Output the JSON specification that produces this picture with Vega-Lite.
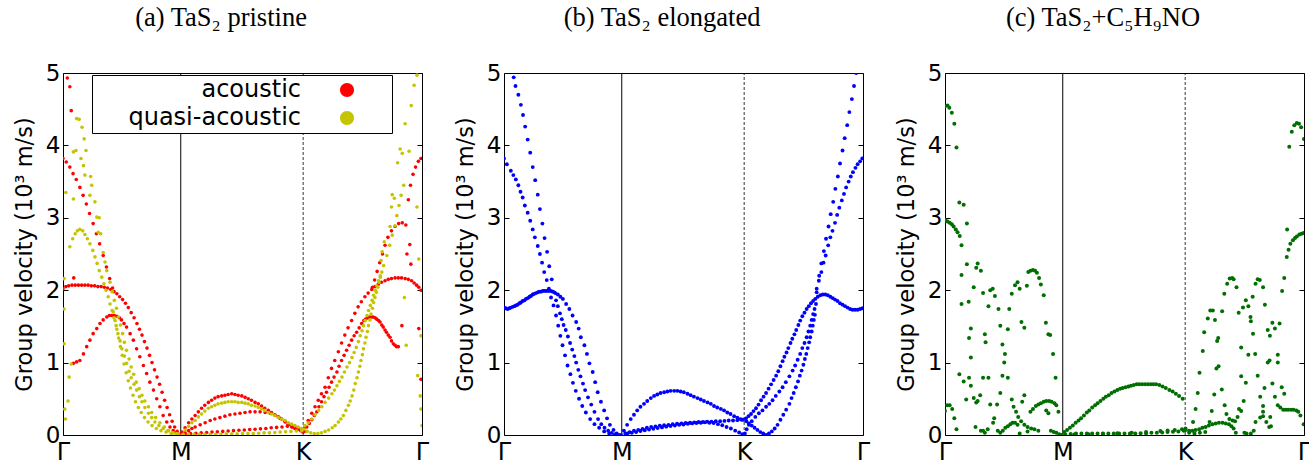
{
"$schema":"https://vega.github.io/schema/vega-lite/v6.json",
"padding":{"left":12,"top":4,"right":2,"bottom":0},
"spacing":23,
"config":{
"font":"DejaVu Sans",
"view":{"stroke":"black","strokeWidth":1},
"axis":{"grid":false,"domain":false,"labelColor":"black","titleColor":"black","tickColor":"black","labelFont":"DejaVu Sans","titleFont":"DejaVu Sans","titleFontWeight":"normal"},
"axisX":{"ticks":false,"labelFontSize":24,"labelPadding":5,"labelFlush":false},
"axisY":{"labelFontSize":23,"titleFontSize":22.5,"tickSize":-5,"labelPadding":8,"titlePadding":9},
"title":{"font":"Liberation Serif","fontSize":26.5,"fontWeight":"normal","color":"black","offset":31,"anchor":"middle","frame":"bounds","baseline":"alphabetic"}
},
"datasets":{
"m":[{"k":"M","x":0.328},{"k":"K","x":0.669}],
"a":[
{"s":"a","x":0,"y":3.82},{"s":"a","x":0.009,"y":3.77},{"s":"a","x":0.019,"y":3.7},{"s":"a","x":0.028,"y":3.61},{"s":"a","x":0.037,"y":3.53},{"s":"a","x":0.047,"y":3.42},{"s":"a","x":0.056,"y":3.31},{"s":"a","x":0.065,"y":3.19},{"s":"a","x":0.074,"y":3.06},{"s":"a","x":0.084,"y":2.92},{"s":"a","x":0.093,"y":2.78},{"s":"a","x":0.102,"y":2.64},{"s":"a","x":0.112,"y":2.48},{"s":"a","x":0.121,"y":2.32},{"s":"a","x":0.13,"y":2.16},{"s":"a","x":0.138,"y":2.03},
{"s":"a","x":0,"y":2.02},{"s":"a","x":0.008,"y":2.05},{"s":"a","x":0.016,"y":2.06},{"s":"a","x":0.025,"y":2.07},{"s":"a","x":0.034,"y":2.07},{"s":"a","x":0.043,"y":2.07},{"s":"a","x":0.052,"y":2.07},{"s":"a","x":0.061,"y":2.07},{"s":"a","x":0.07,"y":2.07},{"s":"a","x":0.079,"y":2.06},{"s":"a","x":0.088,"y":2.06},{"s":"a","x":0.097,"y":2.05},{"s":"a","x":0.106,"y":2.05},{"s":"a","x":0.115,"y":2.04},{"s":"a","x":0.124,"y":2.03},{"s":"a","x":0.133,"y":2.01},{"s":"a","x":0.142,"y":1.98},{"s":"a","x":0.15,"y":1.95},{"s":"a","x":0.158,"y":1.91},{"s":"a","x":0.166,"y":1.87},{"s":"a","x":0.174,"y":1.82},{"s":"a","x":0.182,"y":1.76},{"s":"a","x":0.19,"y":1.69},{"s":"a","x":0.198,"y":1.62},{"s":"a","x":0.206,"y":1.54},{"s":"a","x":0.213,"y":1.46},{"s":"a","x":0.22,"y":1.38},{"s":"a","x":0.227,"y":1.29},{"s":"a","x":0.234,"y":1.2},{"s":"a","x":0.241,"y":1.1},{"s":"a","x":0.248,"y":1.0},{"s":"a","x":0.255,"y":0.9},{"s":"a","x":0.262,"y":0.8},{"s":"a","x":0.269,"y":0.7},{"s":"a","x":0.276,"y":0.59},{"s":"a","x":0.283,"y":0.48},{"s":"a","x":0.29,"y":0.38},{"s":"a","x":0.297,"y":0.28},{"s":"a","x":0.304,"y":0.19},{"s":"a","x":0.311,"y":0.11},{"s":"a","x":0.318,"y":0.05},{"s":"a","x":0.325,"y":0.01},
{"s":"a","x":0.029,"y":0.99},{"s":"a","x":0.038,"y":1.01},{"s":"a","x":0.047,"y":1.03},{"s":"a","x":0.057,"y":1.12},{"s":"a","x":0.066,"y":1.22},{"s":"a","x":0.075,"y":1.31},{"s":"a","x":0.084,"y":1.4},{"s":"a","x":0.094,"y":1.47},{"s":"a","x":0.103,"y":1.54},{"s":"a","x":0.112,"y":1.59},{"s":"a","x":0.122,"y":1.63},{"s":"a","x":0.129,"y":1.65},{"s":"a","x":0.136,"y":1.65},{"s":"a","x":0.143,"y":1.65},{"s":"a","x":0.15,"y":1.64},{"s":"a","x":0.157,"y":1.62},{"s":"a","x":0.163,"y":1.59},{"s":"a","x":0.17,"y":1.54},{"s":"a","x":0.177,"y":1.49},{"s":"a","x":0.187,"y":1.4},{"s":"a","x":0.196,"y":1.31},{"s":"a","x":0.205,"y":1.19},{"s":"a","x":0.214,"y":1.08},{"s":"a","x":0.224,"y":0.96},{"s":"a","x":0.233,"y":0.85},{"s":"a","x":0.242,"y":0.73},{"s":"a","x":0.252,"y":0.62},{"s":"a","x":0.261,"y":0.5},{"s":"a","x":0.27,"y":0.39},{"s":"a","x":0.279,"y":0.27},{"s":"a","x":0.289,"y":0.18},{"s":"a","x":0.298,"y":0.11},{"s":"a","x":0.307,"y":0.06},{"s":"a","x":0.316,"y":0.03},
{"s":"a","x":0.012,"y":4.93},{"s":"a","x":0.019,"y":4.81},{"s":"a","x":0.023,"y":4.48},{"s":"a","x":0.03,"y":2.17},
{"s":"a","x":0.331,"y":0.04},{"s":"a","x":0.34,"y":0.1},{"s":"a","x":0.35,"y":0.17},{"s":"a","x":0.359,"y":0.22},{"s":"a","x":0.368,"y":0.27},{"s":"a","x":0.377,"y":0.32},{"s":"a","x":0.386,"y":0.37},{"s":"a","x":0.395,"y":0.41},{"s":"a","x":0.405,"y":0.45},{"s":"a","x":0.414,"y":0.48},{"s":"a","x":0.423,"y":0.51},{"s":"a","x":0.432,"y":0.53},{"s":"a","x":0.442,"y":0.54},{"s":"a","x":0.451,"y":0.55},{"s":"a","x":0.46,"y":0.56},{"s":"a","x":0.47,"y":0.57},{"s":"a","x":0.479,"y":0.56},{"s":"a","x":0.488,"y":0.55},{"s":"a","x":0.498,"y":0.54},{"s":"a","x":0.507,"y":0.52},{"s":"a","x":0.516,"y":0.5},{"s":"a","x":0.525,"y":0.48},{"s":"a","x":0.535,"y":0.45},{"s":"a","x":0.544,"y":0.43},{"s":"a","x":0.553,"y":0.4},{"s":"a","x":0.562,"y":0.37},{"s":"a","x":0.572,"y":0.34},{"s":"a","x":0.581,"y":0.31},{"s":"a","x":0.59,"y":0.28},{"s":"a","x":0.6,"y":0.25},{"s":"a","x":0.609,"y":0.22},{"s":"a","x":0.618,"y":0.19},{"s":"a","x":0.628,"y":0.15},{"s":"a","x":0.637,"y":0.13},{"s":"a","x":0.646,"y":0.11},{"s":"a","x":0.655,"y":0.09},
{"s":"a","x":0.34,"y":0.03},{"s":"a","x":0.35,"y":0.06},{"s":"a","x":0.359,"y":0.09},{"s":"a","x":0.368,"y":0.11},{"s":"a","x":0.382,"y":0.14},{"s":"a","x":0.396,"y":0.17},{"s":"a","x":0.41,"y":0.2},{"s":"a","x":0.423,"y":0.22},{"s":"a","x":0.437,"y":0.24},{"s":"a","x":0.451,"y":0.26},{"s":"a","x":0.465,"y":0.28},{"s":"a","x":0.479,"y":0.29},{"s":"a","x":0.493,"y":0.3},{"s":"a","x":0.507,"y":0.31},{"s":"a","x":0.521,"y":0.32},{"s":"a","x":0.535,"y":0.32},{"s":"a","x":0.549,"y":0.32},{"s":"a","x":0.563,"y":0.31},{"s":"a","x":0.577,"y":0.3},{"s":"a","x":0.591,"y":0.27},{"s":"a","x":0.605,"y":0.23},{"s":"a","x":0.619,"y":0.18},{"s":"a","x":0.628,"y":0.15},{"s":"a","x":0.637,"y":0.11},{"s":"a","x":0.646,"y":0.09},
{"s":"a","x":0.34,"y":0.01},{"s":"a","x":0.355,"y":0.02},{"s":"a","x":0.37,"y":0.025},{"s":"a","x":0.385,"y":0.03},{"s":"a","x":0.4,"y":0.035},{"s":"a","x":0.415,"y":0.04},{"s":"a","x":0.43,"y":0.045},{"s":"a","x":0.445,"y":0.05},{"s":"a","x":0.46,"y":0.055},{"s":"a","x":0.475,"y":0.06},{"s":"a","x":0.49,"y":0.065},{"s":"a","x":0.505,"y":0.07},{"s":"a","x":0.52,"y":0.075},{"s":"a","x":0.535,"y":0.08},{"s":"a","x":0.55,"y":0.085},{"s":"a","x":0.565,"y":0.09},{"s":"a","x":0.58,"y":0.1},{"s":"a","x":0.595,"y":0.105},{"s":"a","x":0.61,"y":0.11},{"s":"a","x":0.625,"y":0.12},{"s":"a","x":0.64,"y":0.11},{"s":"a","x":0.655,"y":0.08},
{"s":"a","x":0.662,"y":0.06},{"s":"a","x":0.668,"y":0.04},{"s":"a","x":0.672,"y":0.05},
{"s":"a","x":0.674,"y":0.11},{"s":"a","x":0.683,"y":0.2},{"s":"a","x":0.693,"y":0.3},{"s":"a","x":0.702,"y":0.39},{"s":"a","x":0.711,"y":0.48},{"s":"a","x":0.72,"y":0.57},{"s":"a","x":0.73,"y":0.66},{"s":"a","x":0.739,"y":0.79},{"s":"a","x":0.748,"y":0.92},{"s":"a","x":0.757,"y":1.03},{"s":"a","x":0.767,"y":1.15},{"s":"a","x":0.776,"y":1.27},{"s":"a","x":0.785,"y":1.38},{"s":"a","x":0.794,"y":1.48},{"s":"a","x":0.804,"y":1.58},{"s":"a","x":0.813,"y":1.68},{"s":"a","x":0.822,"y":1.77},{"s":"a","x":0.831,"y":1.84},{"s":"a","x":0.841,"y":1.91},{"s":"a","x":0.85,"y":1.96},{"s":"a","x":0.86,"y":2.01},{"s":"a","x":0.869,"y":2.05},{"s":"a","x":0.878,"y":2.08},{"s":"a","x":0.887,"y":2.11},{"s":"a","x":0.897,"y":2.13},{"s":"a","x":0.906,"y":2.15},{"s":"a","x":0.915,"y":2.16},{"s":"a","x":0.925,"y":2.17},{"s":"a","x":0.934,"y":2.17},{"s":"a","x":0.943,"y":2.17},{"s":"a","x":0.953,"y":2.16},{"s":"a","x":0.962,"y":2.15},{"s":"a","x":0.971,"y":2.13},{"s":"a","x":0.978,"y":2.1},{"s":"a","x":0.985,"y":2.07},{"s":"a","x":0.991,"y":2.04},{"s":"a","x":0.997,"y":2.0},
{"s":"a","x":0.679,"y":0.11},{"s":"a","x":0.686,"y":0.16},{"s":"a","x":0.693,"y":0.21},{"s":"a","x":0.7,"y":0.27},{"s":"a","x":0.707,"y":0.32},{"s":"a","x":0.713,"y":0.39},{"s":"a","x":0.72,"y":0.46},{"s":"a","x":0.727,"y":0.53},{"s":"a","x":0.734,"y":0.59},{"s":"a","x":0.741,"y":0.66},{"s":"a","x":0.748,"y":0.73},{"s":"a","x":0.755,"y":0.8},{"s":"a","x":0.763,"y":0.87},{"s":"a","x":0.769,"y":0.95},{"s":"a","x":0.776,"y":1.03},{"s":"a","x":0.783,"y":1.1},{"s":"a","x":0.79,"y":1.17},{"s":"a","x":0.797,"y":1.24},{"s":"a","x":0.804,"y":1.31},{"s":"a","x":0.811,"y":1.37},{"s":"a","x":0.818,"y":1.42},{"s":"a","x":0.825,"y":1.48},{"s":"a","x":0.832,"y":1.54},{"s":"a","x":0.838,"y":1.58},{"s":"a","x":0.843,"y":1.6},{"s":"a","x":0.849,"y":1.62},{"s":"a","x":0.855,"y":1.63},{"s":"a","x":0.86,"y":1.63},{"s":"a","x":0.864,"y":1.63},{"s":"a","x":0.869,"y":1.62},{"s":"a","x":0.874,"y":1.6},{"s":"a","x":0.879,"y":1.58},{"s":"a","x":0.883,"y":1.56},{"s":"a","x":0.888,"y":1.52},{"s":"a","x":0.892,"y":1.49},{"s":"a","x":0.897,"y":1.45},{"s":"a","x":0.901,"y":1.42},{"s":"a","x":0.906,"y":1.38},{"s":"a","x":0.911,"y":1.35},{"s":"a","x":0.915,"y":1.3},{"s":"a","x":0.92,"y":1.26},{"s":"a","x":0.925,"y":1.24},{"s":"a","x":0.929,"y":1.22},{"s":"a","x":0.934,"y":1.22},
{"s":"a","x":0.862,"y":2.04},{"s":"a","x":0.868,"y":2.14},{"s":"a","x":0.875,"y":2.26},{"s":"a","x":0.882,"y":2.38},{"s":"a","x":0.89,"y":2.5},{"s":"a","x":0.897,"y":2.62},{"s":"a","x":0.905,"y":2.73},{"s":"a","x":0.915,"y":2.82},{"s":"a","x":0.925,"y":2.88},{"s":"a","x":0.935,"y":2.92},{"s":"a","x":0.945,"y":2.93},{"s":"a","x":0.955,"y":2.9},{"s":"a","x":0.962,"y":3.25},{"s":"a","x":0.968,"y":3.45},{"s":"a","x":0.975,"y":3.6},{"s":"a","x":0.982,"y":3.7},{"s":"a","x":0.99,"y":3.78},{"s":"a","x":0.997,"y":3.82},
{"s":"a","x":0.966,"y":2.63},{"s":"a","x":0.958,"y":2.5},{"s":"a","x":0.969,"y":2.36},{"s":"a","x":0.944,"y":1.51},{"s":"a","x":0.991,"y":1.47},{"s":"a","x":0.997,"y":0.77},
{"s":"q","x":0.003,"y":2.16},{"s":"q","x":0.003,"y":1.74},{"s":"q","x":0.003,"y":1.26},{"s":"q","x":0.005,"y":0.36},{"s":"q","x":0.007,"y":0.22},{"s":"q","x":0.014,"y":0.47},{"s":"q","x":0.017,"y":0.8},{"s":"q","x":0.023,"y":0.98},{"s":"q","x":0.008,"y":3.35},
{"s":"q","x":0.038,"y":4.37},{"s":"q","x":0.045,"y":4.36},{"s":"q","x":0.053,"y":4.25},{"s":"q","x":0.059,"y":4.09},{"s":"q","x":0.064,"y":3.93},
{"s":"q","x":0.029,"y":3.91},{"s":"q","x":0.036,"y":3.93},{"s":"q","x":0.05,"y":3.82},{"s":"q","x":0.057,"y":3.72},
{"s":"q","x":0.029,"y":3.26},{"s":"q","x":0.061,"y":3.59},{"s":"q","x":0.077,"y":3.57},{"s":"q","x":0.08,"y":3.45},{"s":"q","x":0.075,"y":3.31},{"s":"q","x":0.089,"y":3.22},{"s":"q","x":0.094,"y":3.01},{"s":"q","x":0.101,"y":3.0},{"s":"q","x":0.098,"y":2.8},{"s":"q","x":0.105,"y":2.78},{"s":"q","x":0.112,"y":2.52},{"s":"q","x":0.117,"y":2.39},{"s":"q","x":0.122,"y":2.27},
{"s":"q","x":0.019,"y":2.6},{"s":"q","x":0.027,"y":2.71},{"s":"q","x":0.034,"y":2.78},{"s":"q","x":0.04,"y":2.82},{"s":"q","x":0.047,"y":2.84},{"s":"q","x":0.055,"y":2.82},{"s":"q","x":0.061,"y":2.77},{"s":"q","x":0.068,"y":2.71},{"s":"q","x":0.075,"y":2.64},{"s":"q","x":0.083,"y":2.55},{"s":"q","x":0.089,"y":2.46},{"s":"q","x":0.095,"y":2.37},{"s":"q","x":0.101,"y":2.27},{"s":"q","x":0.108,"y":2.18},{"s":"q","x":0.114,"y":2.09},{"s":"q","x":0.12,"y":2.0},{"s":"q","x":0.126,"y":1.91},{"s":"q","x":0.131,"y":1.81},{"s":"q","x":0.137,"y":1.72},{"s":"q","x":0.142,"y":1.62},{"s":"q","x":0.148,"y":1.51},{"s":"q","x":0.153,"y":1.4},{"s":"q","x":0.159,"y":1.3},{"s":"q","x":0.164,"y":1.19},{"s":"q","x":0.171,"y":1.09},{"s":"q","x":0.177,"y":0.99},{"s":"q","x":0.184,"y":0.88},{"s":"q","x":0.19,"y":0.79},{"s":"q","x":0.198,"y":0.7},{"s":"q","x":0.205,"y":0.62},{"s":"q","x":0.213,"y":0.53},{"s":"q","x":0.22,"y":0.46},{"s":"q","x":0.228,"y":0.38},{"s":"q","x":0.238,"y":0.3},{"s":"q","x":0.247,"y":0.24},{"s":"q","x":0.256,"y":0.18},{"s":"q","x":0.267,"y":0.13},{"s":"q","x":0.279,"y":0.09},{"s":"q","x":0.292,"y":0.06},{"s":"q","x":0.304,"y":0.03},{"s":"q","x":0.317,"y":0.02},
{"s":"q","x":0.131,"y":2.11},{"s":"q","x":0.137,"y":1.98},{"s":"q","x":0.143,"y":1.86},{"s":"q","x":0.149,"y":1.75},{"s":"q","x":0.154,"y":1.63},{"s":"q","x":0.16,"y":1.52},{"s":"q","x":0.166,"y":1.4},{"s":"q","x":0.171,"y":1.28},{"s":"q","x":0.177,"y":1.17},{"s":"q","x":0.184,"y":1.05},{"s":"q","x":0.19,"y":0.94},{"s":"q","x":0.197,"y":0.84},{"s":"q","x":0.204,"y":0.73},{"s":"q","x":0.212,"y":0.64},{"s":"q","x":0.22,"y":0.55},{"s":"q","x":0.228,"y":0.47},{"s":"q","x":0.238,"y":0.39},{"s":"q","x":0.247,"y":0.31},{"s":"q","x":0.258,"y":0.24},{"s":"q","x":0.27,"y":0.17},{"s":"q","x":0.282,"y":0.11},{"s":"q","x":0.294,"y":0.06},{"s":"q","x":0.307,"y":0.03},{"s":"q","x":0.322,"y":0.01},
{"s":"q","x":0.14,"y":1.7},{"s":"q","x":0.145,"y":1.58},{"s":"q","x":0.15,"y":1.46},{"s":"q","x":0.155,"y":1.34},{"s":"q","x":0.16,"y":1.22},{"s":"q","x":0.165,"y":1.1},{"s":"q","x":0.17,"y":0.98},{"s":"q","x":0.176,"y":0.86},{"s":"q","x":0.182,"y":0.75},{"s":"q","x":0.188,"y":0.65},{"s":"q","x":0.195,"y":0.55},{"s":"q","x":0.202,"y":0.46},{"s":"q","x":0.21,"y":0.38},{"s":"q","x":0.218,"y":0.31},{"s":"q","x":0.227,"y":0.24},{"s":"q","x":0.237,"y":0.18},{"s":"q","x":0.248,"y":0.13},{"s":"q","x":0.26,"y":0.09},{"s":"q","x":0.273,"y":0.06},{"s":"q","x":0.287,"y":0.04},{"s":"q","x":0.301,"y":0.02},{"s":"q","x":0.315,"y":0.01},
{"s":"q","x":0.34,"y":0.07},{"s":"q","x":0.35,"y":0.12},{"s":"q","x":0.359,"y":0.17},{"s":"q","x":0.368,"y":0.2},{"s":"q","x":0.377,"y":0.25},{"s":"q","x":0.386,"y":0.29},{"s":"q","x":0.395,"y":0.33},{"s":"q","x":0.405,"y":0.37},{"s":"q","x":0.414,"y":0.39},{"s":"q","x":0.423,"y":0.41},{"s":"q","x":0.432,"y":0.43},{"s":"q","x":0.442,"y":0.44},{"s":"q","x":0.451,"y":0.45},{"s":"q","x":0.46,"y":0.46},{"s":"q","x":0.47,"y":0.46},{"s":"q","x":0.479,"y":0.46},{"s":"q","x":0.488,"y":0.45},{"s":"q","x":0.498,"y":0.45},{"s":"q","x":0.507,"y":0.44},{"s":"q","x":0.516,"y":0.43},{"s":"q","x":0.525,"y":0.41},{"s":"q","x":0.535,"y":0.4},{"s":"q","x":0.544,"y":0.38},{"s":"q","x":0.553,"y":0.36},{"s":"q","x":0.562,"y":0.34},{"s":"q","x":0.572,"y":0.31},{"s":"q","x":0.581,"y":0.29},{"s":"q","x":0.59,"y":0.27},{"s":"q","x":0.6,"y":0.24},{"s":"q","x":0.609,"y":0.22},{"s":"q","x":0.619,"y":0.2},{"s":"q","x":0.628,"y":0.17},{"s":"q","x":0.637,"y":0.15},{"s":"q","x":0.646,"y":0.13},{"s":"q","x":0.655,"y":0.11},{"s":"q","x":0.664,"y":0.09},
{"s":"q","x":0.335,"y":0.01},{"s":"q","x":0.35,"y":0.01},{"s":"q","x":0.365,"y":0.01},{"s":"q","x":0.38,"y":0.01},{"s":"q","x":0.395,"y":0.01},{"s":"q","x":0.41,"y":0.01},{"s":"q","x":0.425,"y":0.01},{"s":"q","x":0.44,"y":0.01},{"s":"q","x":0.455,"y":0.015},{"s":"q","x":0.47,"y":0.015},{"s":"q","x":0.485,"y":0.015},{"s":"q","x":0.5,"y":0.02},{"s":"q","x":0.515,"y":0.02},{"s":"q","x":0.53,"y":0.02},{"s":"q","x":0.545,"y":0.025},{"s":"q","x":0.56,"y":0.03},{"s":"q","x":0.575,"y":0.03},{"s":"q","x":0.59,"y":0.035},{"s":"q","x":0.605,"y":0.04},{"s":"q","x":0.62,"y":0.045},{"s":"q","x":0.635,"y":0.05},{"s":"q","x":0.65,"y":0.055},{"s":"q","x":0.665,"y":0.06},
{"s":"q","x":0.67,"y":0.08},{"s":"q","x":0.68,"y":0.05},{"s":"q","x":0.69,"y":0.03},{"s":"q","x":0.7,"y":0.02},{"s":"q","x":0.71,"y":0.02},{"s":"q","x":0.72,"y":0.03},{"s":"q","x":0.73,"y":0.05},{"s":"q","x":0.74,"y":0.07},{"s":"q","x":0.75,"y":0.1},{"s":"q","x":0.758,"y":0.13},{"s":"q","x":0.767,"y":0.18},{"s":"q","x":0.774,"y":0.22},{"s":"q","x":0.781,"y":0.27},{"s":"q","x":0.788,"y":0.34},{"s":"q","x":0.795,"y":0.41},{"s":"q","x":0.8,"y":0.47},{"s":"q","x":0.805,"y":0.54},{"s":"q","x":0.81,"y":0.62},{"s":"q","x":0.814,"y":0.71},{"s":"q","x":0.819,"y":0.79},{"s":"q","x":0.823,"y":0.87},{"s":"q","x":0.827,"y":0.95},{"s":"q","x":0.83,"y":1.03},{"s":"q","x":0.834,"y":1.11},{"s":"q","x":0.837,"y":1.19},{"s":"q","x":0.841,"y":1.27},{"s":"q","x":0.844,"y":1.35},{"s":"q","x":0.848,"y":1.43},{"s":"q","x":0.851,"y":1.51},{"s":"q","x":0.855,"y":1.59},{"s":"q","x":0.858,"y":1.67},{"s":"q","x":0.862,"y":1.75},{"s":"q","x":0.865,"y":1.83},{"s":"q","x":0.869,"y":1.9},{"s":"q","x":0.873,"y":1.97},{"s":"q","x":0.877,"y":2.04},{"s":"q","x":0.88,"y":2.11},{"s":"q","x":0.884,"y":2.18},{"s":"q","x":0.888,"y":2.25},
{"s":"q","x":0.674,"y":0.13},{"s":"q","x":0.683,"y":0.17},{"s":"q","x":0.693,"y":0.22},{"s":"q","x":0.702,"y":0.28},{"s":"q","x":0.712,"y":0.34},{"s":"q","x":0.721,"y":0.39},{"s":"q","x":0.73,"y":0.45},{"s":"q","x":0.74,"y":0.51},{"s":"q","x":0.749,"y":0.57},{"s":"q","x":0.756,"y":0.62},{"s":"q","x":0.763,"y":0.68},{"s":"q","x":0.77,"y":0.74},{"s":"q","x":0.777,"y":0.8},{"s":"q","x":0.784,"y":0.87},{"s":"q","x":0.791,"y":0.94},{"s":"q","x":0.798,"y":1.0},{"s":"q","x":0.805,"y":1.07},{"s":"q","x":0.811,"y":1.14},{"s":"q","x":0.817,"y":1.21},{"s":"q","x":0.823,"y":1.29},{"s":"q","x":0.828,"y":1.37},{"s":"q","x":0.833,"y":1.44},{"s":"q","x":0.837,"y":1.51},{"s":"q","x":0.842,"y":1.58},{"s":"q","x":0.847,"y":1.65},{"s":"q","x":0.851,"y":1.72},{"s":"q","x":0.856,"y":1.79},{"s":"q","x":0.861,"y":1.86},{"s":"q","x":0.865,"y":1.93},{"s":"q","x":0.87,"y":2.0},{"s":"q","x":0.874,"y":2.06},{"s":"q","x":0.879,"y":2.13},{"s":"q","x":0.884,"y":2.2},{"s":"q","x":0.893,"y":2.34},{"s":"q","x":0.902,"y":2.48},{"s":"q","x":0.91,"y":2.62},{"s":"q","x":0.917,"y":2.76},{"s":"q","x":0.925,"y":2.89},{"s":"q","x":0.93,"y":3.03},{"s":"q","x":0.936,"y":3.17},{"s":"q","x":0.942,"y":3.31},{"s":"q","x":0.949,"y":3.45},
{"s":"q","x":0.939,"y":3.95},{"s":"q","x":0.945,"y":3.89},{"s":"q","x":0.964,"y":3.92},{"s":"q","x":0.932,"y":3.76},{"s":"q","x":0.917,"y":3.32},{"s":"q","x":0.923,"y":3.27},{"s":"q","x":0.915,"y":3.15},{"s":"q","x":0.911,"y":2.88},{"s":"q","x":0.895,"y":2.67},{"s":"q","x":0.889,"y":2.53},{"s":"q","x":0.886,"y":2.41},{"s":"q","x":0.978,"y":4.83},{"s":"q","x":0.97,"y":4.55},{"s":"q","x":0.953,"y":4.3},{"s":"q","x":0.986,"y":4.97},
{"s":"q","x":0.986,"y":3.15},{"s":"q","x":0.991,"y":2.43},{"s":"q","x":0.951,"y":1.9},{"s":"q","x":0.956,"y":1.24},{"s":"q","x":0.988,"y":0.82},{"s":"q","x":0.995,"y":0.54},{"s":"q","x":0.997,"y":0.36},{"s":"q","x":1,"y":0.13},{"s":"q","x":0.997,"y":1.37}
],
"b":[
{"x":0.027,"y":4.94},{"x":0.032,"y":4.82},{"x":0.04,"y":4.7},{"x":0.047,"y":4.56},{"x":0.053,"y":4.42},{"x":0.059,"y":4.26},{"x":0.066,"y":4.08},{"x":0.073,"y":3.9},{"x":0.08,"y":3.7},{"x":0.087,"y":3.52},{"x":0.094,"y":3.32},{"x":0.1,"y":3.12},{"x":0.107,"y":2.92},{"x":0.113,"y":2.72},{"x":0.12,"y":2.53},{"x":0.126,"y":2.33},{"x":0.133,"y":2.15},
{"x":0.14,"y":1.97},{"x":0.145,"y":1.86},{"x":0.15,"y":1.78},{"x":0.156,"y":1.68},{"x":0.161,"y":1.6},{"x":0.166,"y":1.52},{"x":0.172,"y":1.45},{"x":0.178,"y":1.36},{"x":0.184,"y":1.27},{"x":0.19,"y":1.18},{"x":0.196,"y":1.09},{"x":0.201,"y":1.0},{"x":0.207,"y":0.9},{"x":0.213,"y":0.81},{"x":0.22,"y":0.71},{"x":0.226,"y":0.62},{"x":0.234,"y":0.52},{"x":0.243,"y":0.42},{"x":0.252,"y":0.32},{"x":0.262,"y":0.22},{"x":0.271,"y":0.15},{"x":0.28,"y":0.1},{"x":0.29,"y":0.06},{"x":0.3,"y":0.03},{"x":0.31,"y":0.01},{"x":0.32,"y":0.0},
{"x":0,"y":3.82},{"x":0.008,"y":3.74},{"x":0.019,"y":3.65},{"x":0.026,"y":3.59},{"x":0.033,"y":3.53},{"x":0.04,"y":3.45},{"x":0.046,"y":3.36},{"x":0.052,"y":3.28},{"x":0.058,"y":3.17},{"x":0.066,"y":3.07},{"x":0.073,"y":2.96},{"x":0.08,"y":2.84},{"x":0.086,"y":2.73},{"x":0.094,"y":2.61},{"x":0.1,"y":2.5},{"x":0.106,"y":2.38},{"x":0.112,"y":2.25},{"x":0.119,"y":2.14},{"x":0.125,"y":2.02},
{"x":0.131,"y":1.9},{"x":0.138,"y":1.79},{"x":0.145,"y":1.65},{"x":0.151,"y":1.51},{"x":0.157,"y":1.37},{"x":0.163,"y":1.24},{"x":0.17,"y":1.1},{"x":0.177,"y":0.96},{"x":0.185,"y":0.84},{"x":0.192,"y":0.72},{"x":0.2,"y":0.61},{"x":0.209,"y":0.5},{"x":0.218,"y":0.4},{"x":0.228,"y":0.31},{"x":0.24,"y":0.22},{"x":0.252,"y":0.15},{"x":0.265,"y":0.1},{"x":0.279,"y":0.05},{"x":0.293,"y":0.02},{"x":0.307,"y":0.0},
{"x":0,"y":1.76},{"x":0.005,"y":1.75},{"x":0.01,"y":1.74},{"x":0.015,"y":1.75},{"x":0.019,"y":1.76},{"x":0.024,"y":1.77},{"x":0.029,"y":1.78},{"x":0.033,"y":1.79},{"x":0.038,"y":1.8},{"x":0.043,"y":1.82},{"x":0.047,"y":1.83},{"x":0.052,"y":1.85},{"x":0.057,"y":1.86},{"x":0.061,"y":1.88},{"x":0.066,"y":1.89},{"x":0.071,"y":1.91},{"x":0.075,"y":1.92},{"x":0.08,"y":1.94},{"x":0.084,"y":1.95},{"x":0.089,"y":1.96},{"x":0.094,"y":1.97},{"x":0.098,"y":1.98},{"x":0.103,"y":1.98},{"x":0.108,"y":1.99},{"x":0.112,"y":1.99},{"x":0.117,"y":1.99},{"x":0.122,"y":1.99},{"x":0.127,"y":1.99},{"x":0.131,"y":1.99},{"x":0.136,"y":1.98},
{"x":0.143,"y":1.96},{"x":0.15,"y":1.94},{"x":0.157,"y":1.91},{"x":0.164,"y":1.88},{"x":0.173,"y":1.81},{"x":0.182,"y":1.74},{"x":0.191,"y":1.65},{"x":0.201,"y":1.56},{"x":0.208,"y":1.47},{"x":0.214,"y":1.35},{"x":0.224,"y":1.24},{"x":0.231,"y":1.12},{"x":0.238,"y":0.99},{"x":0.247,"y":0.87},{"x":0.254,"y":0.73},{"x":0.261,"y":0.59},{"x":0.27,"y":0.46},{"x":0.279,"y":0.34},{"x":0.287,"y":0.23},{"x":0.295,"y":0.14},{"x":0.305,"y":0.07},{"x":0.314,"y":0.02},{"x":0.326,"y":0.0},
{"x":0.334,"y":0.06},{"x":0.343,"y":0.14},{"x":0.353,"y":0.22},{"x":0.362,"y":0.28},{"x":0.371,"y":0.34},{"x":0.38,"y":0.39},{"x":0.39,"y":0.43},{"x":0.399,"y":0.47},{"x":0.409,"y":0.51},{"x":0.418,"y":0.54},{"x":0.427,"y":0.56},{"x":0.436,"y":0.58},{"x":0.446,"y":0.59},{"x":0.455,"y":0.6},{"x":0.464,"y":0.61},{"x":0.474,"y":0.61},{"x":0.483,"y":0.61},{"x":0.492,"y":0.6},{"x":0.501,"y":0.59},{"x":0.511,"y":0.57},{"x":0.52,"y":0.55},{"x":0.529,"y":0.53},{"x":0.539,"y":0.51},{"x":0.548,"y":0.49},{"x":0.557,"y":0.47},{"x":0.567,"y":0.45},{"x":0.576,"y":0.43},{"x":0.585,"y":0.4},{"x":0.594,"y":0.38},{"x":0.604,"y":0.36},{"x":0.613,"y":0.34},{"x":0.622,"y":0.31},{"x":0.631,"y":0.29},{"x":0.641,"y":0.26},{"x":0.65,"y":0.24},{"x":0.659,"y":0.22},{"x":0.666,"y":0.21},
{"x":0.338,"y":0.02},{"x":0.35,"y":0.04},{"x":0.362,"y":0.06},{"x":0.374,"y":0.07},{"x":0.386,"y":0.085},{"x":0.398,"y":0.1},{"x":0.41,"y":0.11},{"x":0.422,"y":0.12},{"x":0.434,"y":0.13},{"x":0.446,"y":0.135},{"x":0.458,"y":0.14},{"x":0.47,"y":0.15},{"x":0.482,"y":0.155},{"x":0.494,"y":0.16},{"x":0.506,"y":0.165},{"x":0.518,"y":0.17},{"x":0.53,"y":0.175},{"x":0.542,"y":0.18},{"x":0.554,"y":0.18},{"x":0.566,"y":0.185},{"x":0.578,"y":0.185},{"x":0.59,"y":0.19},{"x":0.602,"y":0.19},{"x":0.614,"y":0.195},{"x":0.626,"y":0.2},{"x":0.638,"y":0.2},{"x":0.65,"y":0.205},{"x":0.662,"y":0.21},
{"x":0.344,"y":0.02},{"x":0.356,"y":0.03},{"x":0.368,"y":0.04},{"x":0.38,"y":0.055},{"x":0.392,"y":0.065},{"x":0.404,"y":0.075},{"x":0.416,"y":0.085},{"x":0.428,"y":0.095},{"x":0.44,"y":0.105},{"x":0.452,"y":0.115},{"x":0.464,"y":0.125},{"x":0.476,"y":0.13},{"x":0.488,"y":0.14},{"x":0.5,"y":0.145},{"x":0.512,"y":0.155},{"x":0.524,"y":0.16},{"x":0.536,"y":0.165},{"x":0.548,"y":0.17},{"x":0.56,"y":0.175},{"x":0.572,"y":0.17},{"x":0.584,"y":0.165},{"x":0.596,"y":0.15},{"x":0.608,"y":0.135},{"x":0.62,"y":0.11},{"x":0.632,"y":0.09},{"x":0.644,"y":0.06},{"x":0.655,"y":0.035},{"x":0.664,"y":0.01},
{"x":0.674,"y":0.23},{"x":0.681,"y":0.26},{"x":0.688,"y":0.29},{"x":0.695,"y":0.33},{"x":0.702,"y":0.37},{"x":0.709,"y":0.42},{"x":0.716,"y":0.48},{"x":0.723,"y":0.53},{"x":0.73,"y":0.58},{"x":0.737,"y":0.64},{"x":0.744,"y":0.7},{"x":0.751,"y":0.76},{"x":0.758,"y":0.82},{"x":0.764,"y":0.88},{"x":0.77,"y":0.95},{"x":0.776,"y":1.02},{"x":0.781,"y":1.08},{"x":0.787,"y":1.14},{"x":0.792,"y":1.2},{"x":0.798,"y":1.27},{"x":0.803,"y":1.33},{"x":0.809,"y":1.39},{"x":0.814,"y":1.45},{"x":0.82,"y":1.52},{"x":0.825,"y":1.58},{"x":0.831,"y":1.64},{"x":0.837,"y":1.69},{"x":0.843,"y":1.74},{"x":0.849,"y":1.78},{"x":0.855,"y":1.82},{"x":0.861,"y":1.85},{"x":0.867,"y":1.88},{"x":0.874,"y":1.91},{"x":0.881,"y":1.93},{"x":0.888,"y":1.94},{"x":0.895,"y":1.94},{"x":0.902,"y":1.93},{"x":0.909,"y":1.91},{"x":0.916,"y":1.89},{"x":0.922,"y":1.87},{"x":0.929,"y":1.85},{"x":0.936,"y":1.82},{"x":0.943,"y":1.8},{"x":0.95,"y":1.78},{"x":0.957,"y":1.76},{"x":0.964,"y":1.74},{"x":0.971,"y":1.73},{"x":0.978,"y":1.73},{"x":0.985,"y":1.73},{"x":0.992,"y":1.74},{"x":0.999,"y":1.75},
{"x":0.671,"y":0.02},{"x":0.676,"y":0.08},{"x":0.682,"y":0.14},{"x":0.69,"y":0.19},{"x":0.7,"y":0.25},{"x":0.71,"y":0.3},{"x":0.72,"y":0.34},{"x":0.73,"y":0.39},{"x":0.739,"y":0.43},{"x":0.748,"y":0.48},{"x":0.757,"y":0.54},{"x":0.767,"y":0.6},{"x":0.776,"y":0.66},{"x":0.785,"y":0.73},{"x":0.795,"y":0.81},{"x":0.804,"y":0.89},{"x":0.811,"y":0.96},{"x":0.818,"y":1.04},{"x":0.825,"y":1.12},{"x":0.831,"y":1.2},{"x":0.837,"y":1.27},{"x":0.843,"y":1.35},{"x":0.848,"y":1.43},{"x":0.853,"y":1.51},{"x":0.857,"y":1.59},{"x":0.861,"y":1.67},{"x":0.865,"y":1.74},{"x":0.869,"y":1.81},
{"x":0.675,"y":0.19},{"x":0.682,"y":0.16},{"x":0.69,"y":0.13},{"x":0.698,"y":0.1},{"x":0.706,"y":0.07},{"x":0.714,"y":0.04},{"x":0.722,"y":0.02},{"x":0.73,"y":0.0},{"x":0.738,"y":0.02},{"x":0.746,"y":0.05},{"x":0.754,"y":0.09},{"x":0.762,"y":0.14},{"x":0.77,"y":0.21},{"x":0.778,"y":0.28},{"x":0.786,"y":0.35},{"x":0.795,"y":0.43},{"x":0.801,"y":0.51},{"x":0.807,"y":0.58},{"x":0.813,"y":0.66},{"x":0.819,"y":0.74},{"x":0.824,"y":0.82},{"x":0.829,"y":0.89},{"x":0.834,"y":0.97},{"x":0.838,"y":1.05},{"x":0.842,"y":1.12},{"x":0.846,"y":1.2},{"x":0.85,"y":1.28},{"x":0.853,"y":1.35},{"x":0.857,"y":1.43},{"x":0.86,"y":1.51},{"x":0.863,"y":1.59},{"x":0.866,"y":1.66},
{"x":0.871,"y":2.02},{"x":0.878,"y":2.2},{"x":0.884,"y":2.37},{"x":0.891,"y":2.54},{"x":0.897,"y":2.71},{"x":0.904,"y":2.88},{"x":0.91,"y":3.05},{"x":0.917,"y":3.22},{"x":0.923,"y":3.4},{"x":0.93,"y":3.57},{"x":0.936,"y":3.75},{"x":0.943,"y":3.93},{"x":0.949,"y":4.1},{"x":0.956,"y":4.28},{"x":0.962,"y":4.46},{"x":0.969,"y":4.64},{"x":0.975,"y":4.82},{"x":0.981,"y":5.0},
{"x":0.871,"y":1.97},{"x":0.877,"y":2.13},{"x":0.884,"y":2.25},{"x":0.89,"y":2.38},{"x":0.896,"y":2.48},{"x":0.903,"y":2.62},{"x":0.909,"y":2.73},{"x":0.915,"y":2.82},{"x":0.922,"y":2.93},{"x":0.928,"y":3.04},{"x":0.934,"y":3.14},{"x":0.941,"y":3.24},{"x":0.947,"y":3.33},{"x":0.953,"y":3.42},{"x":0.96,"y":3.5},{"x":0.966,"y":3.57},{"x":0.972,"y":3.63},{"x":0.979,"y":3.69},{"x":0.985,"y":3.74},{"x":0.992,"y":3.78},{"x":0.998,"y":3.82}
],
"c":[
{"x":0,"y":4.54},{"x":0.007,"y":4.55},{"x":0.012,"y":4.52},{"x":0.019,"y":4.45},{"x":0.026,"y":4.3},{"x":0.032,"y":3.97},{"x":0.04,"y":3.21},{"x":0.052,"y":3.18},{"x":0.061,"y":2.92},
{"x":0,"y":2.97},{"x":0.002,"y":2.96},{"x":0.007,"y":2.95},{"x":0.013,"y":2.93},{"x":0.019,"y":2.91},{"x":0.024,"y":2.88},{"x":0.03,"y":2.84},{"x":0.035,"y":2.8},{"x":0.041,"y":2.75},{"x":0.046,"y":2.62},
{"x":0.061,"y":2.36},{"x":0.091,"y":2.37},{"x":0.087,"y":2.31},{"x":0.1,"y":2.27},
{"x":0.046,"y":2.21},{"x":0.08,"y":2.04},{"x":0.106,"y":1.96},{"x":0.126,"y":2.0},{"x":0.133,"y":2.02},{"x":0.139,"y":1.92},
{"x":0.046,"y":1.81},{"x":0.066,"y":1.84},{"x":0.121,"y":1.78},{"x":0.149,"y":1.74},{"x":0.179,"y":1.74},{"x":0.186,"y":1.95},{"x":0.195,"y":2.07},{"x":0.202,"y":2.11},{"x":0.208,"y":2.02},{"x":0.228,"y":2.06},
{"x":0.232,"y":2.25},{"x":0.238,"y":2.27},{"x":0.245,"y":2.28},{"x":0.251,"y":2.27},{"x":0.256,"y":2.24},{"x":0.262,"y":2.17},{"x":0.267,"y":2.08},{"x":0.275,"y":1.93},
{"x":0.072,"y":1.47},{"x":0.067,"y":1.34},{"x":0.111,"y":1.39},{"x":0.113,"y":1.28},{"x":0.154,"y":1.51},{"x":0.16,"y":1.25},{"x":0.175,"y":1.46},{"x":0.213,"y":1.56},{"x":0.221,"y":1.48},{"x":0.281,"y":1.55},{"x":0.288,"y":1.39},{"x":0.293,"y":1.38},{"x":0.301,"y":1.12},{"x":0.308,"y":0.79},
{"x":0.072,"y":1.07},{"x":0.167,"y":1.12},{"x":0.165,"y":1.0},{"x":0.04,"y":0.84},{"x":0.067,"y":0.79},{"x":0.106,"y":0.79},{"x":0.121,"y":0.79},{"x":0.16,"y":0.82},{"x":0.175,"y":0.79},{"x":0.052,"y":0.74},{"x":0.072,"y":0.68},
{"x":0.059,"y":0.49},{"x":0.08,"y":0.51},{"x":0.087,"y":0.45},{"x":0.091,"y":0.47},{"x":0.098,"y":0.55},{"x":0.126,"y":0.42},{"x":0.145,"y":0.42},{"x":0.154,"y":0.58},{"x":0.186,"y":0.49},{"x":0.215,"y":0.46},{"x":0.221,"y":0.55},
{"x":0,"y":0.33},{"x":0.006,"y":0.41},{"x":0.013,"y":0.41},{"x":0.02,"y":0.36},{"x":0.026,"y":0.23},{"x":0.032,"y":0.08},
{"x":0.085,"y":0.11},{"x":0.1,"y":0.06},{"x":0.106,"y":0.06},{"x":0.111,"y":0.03},{"x":0.119,"y":0.08},{"x":0.134,"y":0.17},{"x":0.137,"y":0.23},{"x":0.147,"y":0.06},{"x":0.154,"y":0.03},{"x":0.161,"y":0.06},{"x":0.168,"y":0.1},{"x":0.175,"y":0.12},{"x":0.182,"y":0.15},{"x":0.188,"y":0.17},{"x":0.195,"y":0.17},{"x":0.202,"y":0.14},{"x":0.208,"y":0.02},{"x":0.23,"y":0.05},
{"x":0.191,"y":0.39},{"x":0.198,"y":0.32},{"x":0.204,"y":0.25},{"x":0.212,"y":0.19},{"x":0.221,"y":0.14},{"x":0.23,"y":0.11},{"x":0.24,"y":0.09},{"x":0.249,"y":0.08},{"x":0.26,"y":0.06},
{"x":0.238,"y":0.32},{"x":0.245,"y":0.36},{"x":0.253,"y":0.4},{"x":0.26,"y":0.42},{"x":0.267,"y":0.44},{"x":0.275,"y":0.46},{"x":0.282,"y":0.47},{"x":0.29,"y":0.47},{"x":0.297,"y":0.46},{"x":0.305,"y":0.44},{"x":0.31,"y":0.41},{"x":0.316,"y":0.32},
{"x":0.282,"y":0.34},{"x":0.288,"y":0.3},{"x":0.295,"y":0.06},{"x":0.303,"y":0.04},{"x":0.31,"y":0.03},{"x":0.318,"y":0.01},{"x":0.325,"y":0.0},
{"x":0.332,"y":0.04},{"x":0.34,"y":0.07},{"x":0.348,"y":0.1},{"x":0.356,"y":0.13},{"x":0.364,"y":0.17},{"x":0.372,"y":0.2},{"x":0.379,"y":0.23},{"x":0.387,"y":0.27},{"x":0.395,"y":0.31},{"x":0.402,"y":0.34},{"x":0.41,"y":0.38},{"x":0.418,"y":0.41},{"x":0.425,"y":0.44},{"x":0.433,"y":0.47},{"x":0.441,"y":0.5},{"x":0.448,"y":0.53},{"x":0.456,"y":0.55},{"x":0.464,"y":0.58},{"x":0.472,"y":0.6},{"x":0.48,"y":0.62},{"x":0.488,"y":0.64},{"x":0.495,"y":0.65},{"x":0.503,"y":0.66},{"x":0.511,"y":0.67},{"x":0.518,"y":0.68},{"x":0.526,"y":0.69},{"x":0.534,"y":0.7},{"x":0.541,"y":0.7},{"x":0.549,"y":0.7},{"x":0.557,"y":0.7},{"x":0.565,"y":0.7},{"x":0.573,"y":0.7},{"x":0.58,"y":0.7},{"x":0.588,"y":0.7},{"x":0.597,"y":0.69},{"x":0.606,"y":0.67},{"x":0.615,"y":0.65},{"x":0.625,"y":0.62},{"x":0.634,"y":0.6},{"x":0.643,"y":0.57},{"x":0.652,"y":0.54},{"x":0.662,"y":0.5},
{"x":0.335,"y":0.01},{"x":0.35,"y":0.015},{"x":0.365,"y":0.02},{"x":0.38,"y":0.02},{"x":0.395,"y":0.02},{"x":0.41,"y":0.02},{"x":0.425,"y":0.02},{"x":0.44,"y":0.02},{"x":0.455,"y":0.02},{"x":0.47,"y":0.02},{"x":0.485,"y":0.02},{"x":0.5,"y":0.02},{"x":0.515,"y":0.02},{"x":0.53,"y":0.02},{"x":0.545,"y":0.025},{"x":0.56,"y":0.025},{"x":0.575,"y":0.03},{"x":0.59,"y":0.03},{"x":0.605,"y":0.035},{"x":0.62,"y":0.04},{"x":0.635,"y":0.045},{"x":0.65,"y":0.05},{"x":0.665,"y":0.06},
{"x":0.36,"y":0.008},{"x":0.4,"y":0.012},{"x":0.44,"y":0.018},{"x":0.48,"y":0.024},{"x":0.52,"y":0.032},{"x":0.56,"y":0.042},{"x":0.6,"y":0.055},{"x":0.62,"y":0.062},{"x":0.64,"y":0.07},{"x":0.66,"y":0.08},{"x":0.67,"y":0.09},
{"x":0.959,"y":3.98},{"x":0.966,"y":4.19},{"x":0.973,"y":4.28},{"x":0.98,"y":4.31},{"x":0.986,"y":4.3},{"x":0.992,"y":4.25},{"x":1,"y":4.09},
{"x":0.953,"y":2.84},{"x":0.957,"y":2.56},{"x":0.952,"y":2.46},{"x":0.945,"y":2.17},{"x":0.939,"y":1.99},
{"x":0.962,"y":2.64},{"x":0.969,"y":2.69},{"x":0.975,"y":2.72},{"x":0.98,"y":2.74},{"x":0.987,"y":2.77},{"x":0.993,"y":2.78},{"x":0.999,"y":2.79},
{"x":0.927,"y":0.41},{"x":0.934,"y":0.38},{"x":0.942,"y":0.35},{"x":0.949,"y":0.35},{"x":0.956,"y":0.35},{"x":0.964,"y":0.35},{"x":0.971,"y":0.35},{"x":0.979,"y":0.34},{"x":0.984,"y":0.32},{"x":0.99,"y":0.27},{"x":0.999,"y":0.15},
{"x":0.786,"y":2.09},{"x":0.793,"y":2.16},{"x":0.8,"y":2.17},{"x":0.804,"y":2.15},{"x":0.812,"y":2.04},{"x":0.778,"y":1.95},{"x":0.865,"y":2.09},{"x":0.871,"y":2.15},{"x":0.877,"y":2.14},{"x":0.886,"y":2.04},
{"x":0.83,"y":1.76},{"x":0.838,"y":1.86},{"x":0.845,"y":1.78},{"x":0.818,"y":1.69},{"x":0.857,"y":1.91},{"x":0.732,"y":1.61},{"x":0.739,"y":1.72},{"x":0.746,"y":1.72},{"x":0.752,"y":1.59},{"x":0.772,"y":1.71},{"x":0.891,"y":1.8},{"x":0.851,"y":1.63},{"x":0.852,"y":1.57},
{"x":0.722,"y":1.42},{"x":0.758,"y":1.3},{"x":0.761,"y":1.34},{"x":0.858,"y":1.4},{"x":0.912,"y":1.55},{"x":0.932,"y":1.54},{"x":0.919,"y":1.47},{"x":0.899,"y":1.45},{"x":0.905,"y":1.37},{"x":0.825,"y":1.21},{"x":0.845,"y":1.11},{"x":0.864,"y":1.12},{"x":0.718,"y":1.16},{"x":0.927,"y":1.11},
{"x":0.899,"y":1.0},{"x":0.904,"y":1.03},{"x":0.927,"y":1.0},{"x":0.756,"y":0.92},{"x":0.762,"y":0.95},{"x":0.709,"y":0.86},{"x":0.871,"y":0.82},{"x":0.825,"y":0.81},{"x":0.838,"y":0.72},{"x":0.912,"y":0.71},{"x":0.89,"y":0.65},{"x":0.938,"y":0.66},
{"x":0.771,"y":0.63},{"x":0.704,"y":0.58},{"x":0.75,"y":0.56},{"x":0.878,"y":0.53},{"x":0.919,"y":0.53},{"x":0.945,"y":0.57},{"x":0.832,"y":0.47},{"x":0.779,"y":0.41},{"x":0.698,"y":0.36},
{"x":0.743,"y":0.33},{"x":0.819,"y":0.36},{"x":0.825,"y":0.33},{"x":0.886,"y":0.4},{"x":0.886,"y":0.32},{"x":0.886,"y":0.26},{"x":0.878,"y":0.24},{"x":0.906,"y":0.25},{"x":0.784,"y":0.29},{"x":0.895,"y":0.18},{"x":0.903,"y":0.11},{"x":0.908,"y":0.12},{"x":0.808,"y":0.19},{"x":0.792,"y":0.22},{"x":0.801,"y":0.2},{"x":0.815,"y":0.25},{"x":0.865,"y":0.18},{"x":0.86,"y":0.06},{"x":0.834,"y":0.03},{"x":0.84,"y":0.02},{"x":0.852,"y":0.02},{"x":0.737,"y":0.18},{"x":0.691,"y":0.18},
{"x":0.67,"y":0.07},{"x":0.68,"y":0.06},{"x":0.689,"y":0.06},{"x":0.698,"y":0.07},{"x":0.708,"y":0.08},{"x":0.717,"y":0.1},{"x":0.726,"y":0.11},{"x":0.735,"y":0.13},{"x":0.745,"y":0.15},{"x":0.754,"y":0.16},{"x":0.763,"y":0.17},{"x":0.773,"y":0.17},{"x":0.782,"y":0.16},{"x":0.791,"y":0.15},{"x":0.798,"y":0.12},{"x":0.804,"y":0.09},{"x":0.81,"y":0.03},
{"x":0.68,"y":0.03},{"x":0.695,"y":0.02},{"x":0.71,"y":0.03},{"x":0.725,"y":0.04}
]
},
"hconcat":[
{"width":359,"height":362,"title":{"text":"(a) TaS₂ pristine"},
"layer":[
{"data":{"name":"m"},"transform":[{"filter":"datum.k=='M'"}],"mark":{"type":"rule","color":"black","strokeWidth":1},
"encoding":{"x":{"field":"x","type":"quantitative","title":null,"scale":{"domain":[0,1],"nice":false,"zero":false},"axis":{"values":[0,0.328,0.669,1],"labelExpr":"datum.value<0.1||datum.value>0.9?'Γ':(datum.value<0.5?'M':'K')"}},
"y":{"datum":0,"type":"quantitative","scale":{"domain":[0,5],"nice":false,"zero":false},"axis":{"orient":"right","labels":false,"title":null,"values":[0,1,2,3,4,5]}},"y2":{"datum":5}}},
{"data":{"name":"m"},"transform":[{"filter":"datum.k=='K'"}],"mark":{"type":"rule","color":"black","strokeWidth":0.8,"strokeDash":[3,2]},
"encoding":{"x":{"field":"x","type":"quantitative","title":null,"scale":{"domain":[0,1],"nice":false,"zero":false},"axis":{"values":[0,0.328,0.669,1],"labelExpr":"datum.value<0.1||datum.value>0.9?'Γ':(datum.value<0.5?'M':'K')"}},
"y":{"datum":0,"type":"quantitative","scale":{"domain":[0,5],"nice":false,"zero":false},"axis":null},"y2":{"datum":5}}},
{"data":{"name":"a"},"mark":{"type":"circle","size":13,"opacity":1,"clip":true},
"encoding":{"x":{"field":"x","type":"quantitative","title":null,"scale":{"domain":[0,1],"nice":false,"zero":false},"axis":{"values":[0,0.328,0.669,1],"labelExpr":"datum.value<0.1||datum.value>0.9?'Γ':(datum.value<0.5?'M':'K')"}},
"y":{"field":"y","type":"quantitative","title":"Group velocity (10³ m/s)","scale":{"domain":[0,5],"nice":false,"zero":false},"axis":{"values":[0,1,2,3,4,5],"format":"d"}},
"color":{"field":"s","type":"nominal","scale":{"domain":["a","q"],"range":["#ff0000","#c4c400"]},
"legend":{"orient":"none","legendX":29,"legendY":2,"title":null,"symbolType":"M 6 0 M -1 0 A 1 1 0 1 1 1 0 A 1 1 0 1 1 -1 0 Z","symbolSize":196,"symbolStrokeWidth":0,"symbolOpacity":1,"symbolOffset":240,"labelFontSize":24,"labelColor":"black","labelAlign":"right","labelOffset":-58,"labelLimit":0,"labelExpr":"datum.label=='a'?'acoustic':'quasi-acoustic'","strokeColor":"black","fillColor":"white","padding":3,"rowPadding":4,"cornerRadius":0}}}}
],
"resolve":{"axis":{"y":"independent"}}},
{"width":359,"height":362,"title":{"text":"(b) TaS₂ elongated"},
"layer":[
{"data":{"name":"m"},"transform":[{"filter":"datum.k=='M'"}],"mark":{"type":"rule","color":"black","strokeWidth":1},
"encoding":{"x":{"field":"x","type":"quantitative","title":null,"scale":{"domain":[0,1],"nice":false,"zero":false},"axis":{"values":[0,0.328,0.669,1],"labelExpr":"datum.value<0.1||datum.value>0.9?'Γ':(datum.value<0.5?'M':'K')"}},
"y":{"datum":0,"type":"quantitative","scale":{"domain":[0,5],"nice":false,"zero":false},"axis":{"orient":"right","labels":false,"title":null,"values":[0,1,2,3,4,5]}},"y2":{"datum":5}}},
{"data":{"name":"m"},"transform":[{"filter":"datum.k=='K'"}],"mark":{"type":"rule","color":"black","strokeWidth":0.8,"strokeDash":[3,2]},
"encoding":{"x":{"field":"x","type":"quantitative","title":null,"scale":{"domain":[0,1],"nice":false,"zero":false},"axis":{"values":[0,0.328,0.669,1],"labelExpr":"datum.value<0.1||datum.value>0.9?'Γ':(datum.value<0.5?'M':'K')"}},
"y":{"datum":0,"type":"quantitative","scale":{"domain":[0,5],"nice":false,"zero":false},"axis":null},"y2":{"datum":5}}},
{"data":{"name":"b"},"mark":{"type":"circle","size":15,"opacity":1,"clip":true,"color":"#0000ff"},
"encoding":{"x":{"field":"x","type":"quantitative","title":null,"scale":{"domain":[0,1],"nice":false,"zero":false},"axis":{"values":[0,0.328,0.669,1],"labelExpr":"datum.value<0.1||datum.value>0.9?'Γ':(datum.value<0.5?'M':'K')"}},
"y":{"field":"y","type":"quantitative","title":"Group velocity (10³ m/s)","scale":{"domain":[0,5],"nice":false,"zero":false},"axis":{"values":[0,1,2,3,4,5],"format":"d"}}}}
],
"resolve":{"axis":{"y":"independent"}}},
{"width":359,"height":362,"title":{"text":"(c) TaS₂+C₅H₉NO"},
"layer":[
{"data":{"name":"m"},"transform":[{"filter":"datum.k=='M'"}],"mark":{"type":"rule","color":"black","strokeWidth":1},
"encoding":{"x":{"field":"x","type":"quantitative","title":null,"scale":{"domain":[0,1],"nice":false,"zero":false},"axis":{"values":[0,0.328,0.669,1],"labelExpr":"datum.value<0.1||datum.value>0.9?'Γ':(datum.value<0.5?'M':'K')"}},
"y":{"datum":0,"type":"quantitative","scale":{"domain":[0,5],"nice":false,"zero":false},"axis":{"orient":"right","labels":false,"title":null,"values":[0,1,2,3,4,5]}},"y2":{"datum":5}}},
{"data":{"name":"m"},"transform":[{"filter":"datum.k=='K'"}],"mark":{"type":"rule","color":"black","strokeWidth":0.8,"strokeDash":[3,2]},
"encoding":{"x":{"field":"x","type":"quantitative","title":null,"scale":{"domain":[0,1],"nice":false,"zero":false},"axis":{"values":[0,0.328,0.669,1],"labelExpr":"datum.value<0.1||datum.value>0.9?'Γ':(datum.value<0.5?'M':'K')"}},
"y":{"datum":0,"type":"quantitative","scale":{"domain":[0,5],"nice":false,"zero":false},"axis":null},"y2":{"datum":5}}},
{"data":{"name":"c"},"mark":{"type":"circle","size":16,"opacity":1,"clip":true,"color":"#006f00"},
"encoding":{"x":{"field":"x","type":"quantitative","title":null,"scale":{"domain":[0,1],"nice":false,"zero":false},"axis":{"values":[0,0.328,0.669,1],"labelExpr":"datum.value<0.1||datum.value>0.9?'Γ':(datum.value<0.5?'M':'K')"}},
"y":{"field":"y","type":"quantitative","title":"Group velocity (10³ m/s)","scale":{"domain":[0,5],"nice":false,"zero":false},"axis":{"values":[0,1,2,3,4,5],"format":"d"}}}}
],
"resolve":{"axis":{"y":"independent"}}}
]
}
